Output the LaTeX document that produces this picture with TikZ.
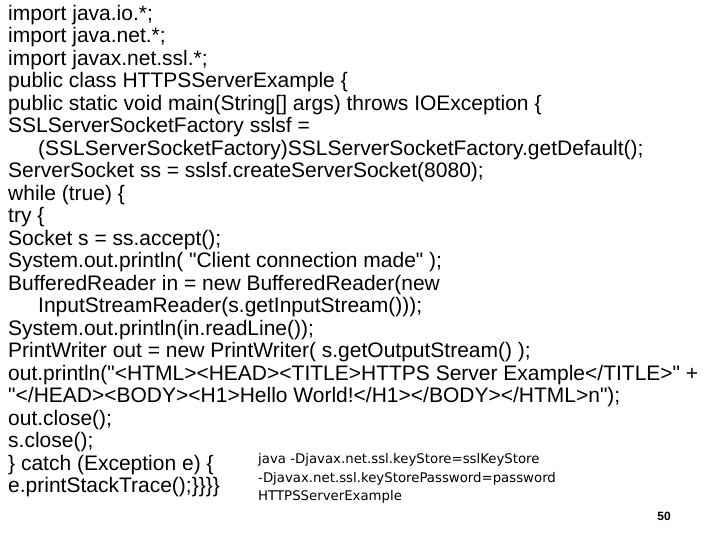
\documentclass[tikz,border=0pt]{standalone}
\usepackage{fontspec}
\setmainfont{Liberation Sans}
\newfontfamily\smallfont{DejaVu Sans}
\begin{document}
\begin{tikzpicture}[x=1pt,y=-1pt,
  code/.style={anchor=west,inner sep=0pt,font=\fontsize{21}{23}\selectfont},
  cmd/.style={anchor=west,inner sep=0pt,font=\smallfont\fontsize{13.3}{15}\selectfont},
  pg/.style={anchor=center,inner sep=0pt,font=\bfseries\fontsize{12}{14}\selectfont}]
\useasboundingbox[fill=white] (0,0) rectangle (720,540);
\node[code] (l1) at (8,15) {import java.io.*;};
\node[code] (l2) at (8,37.5) {import java.net.*;};
\node[code] (l3) at (8,60) {import javax.net.ssl.*;};
\node[code] (l4) at (8,82.5) {public class HTTPSServerExample \{};
\node[code] (l5) at (8,105) {public static void main(String[] args) throws IOException \{};
\node[code] (l6) at (8,127.5) {SSLServerSocketFactory sslsf =};
\node[code] (l7) at (38,150) {(SSLServerSocketFactory)SSLServerSocketFactory.getDefault();};
\node[code] (l8) at (8,172.5) {ServerSocket ss = sslsf.createServerSocket(8080);};
\node[code] (l9) at (8,195) {while (true) \{};
\node[code] (l10) at (8,217.5) {try \{};
\node[code] (l11) at (8,240) {Socket s = ss.accept();};
\node[code] (l12) at (8,262.5) {System.out.println( \textquotedbl Client connection made\textquotedbl\ );};
\node[code] (l13) at (8,285) {BufferedReader in = new BufferedReader(new};
\node[code] (l14) at (38,307.5) {InputStreamReader(s.getInputStream()));};
\node[code] (l15) at (8,330) {System.out.println(in.readLine());};
\node[code] (l16) at (8,352.5) {PrintWriter out = new PrintWriter( s.getOutputStream() );};
\node[code] (l17) at (8,375) {out.println(\textquotedbl<HTML><HEAD><TITLE>HTTPS Server Example</TITLE>\textquotedbl\ +};
\node[code] (l18) at (8,397.5) {\textquotedbl</HEAD><BODY><H1>Hello World!</H1></BODY></HTML>n\textquotedbl);};
\node[code] (l19) at (8,420) {out.close();};
\node[code] (l20) at (8,442.5) {s.close();};
\node[code] (l21) at (8,465) {\} catch (Exception e) \{};
\node[code] (l22) at (8,487.5) {e.printStackTrace();\}\}\}\}};
\node[cmd] (c1) at (258,460) {java -Djavax.net.ssl.keyStore=sslKeyStore};
\node[cmd] (c2) at (258,479) {-Djavax.net.ssl.keyStorePassword=password};
\node[cmd] (c3) at (258,497) {HTTPSServerExample};
\node[pg] (p) at (664,516) {50};
\end{tikzpicture}
\end{document}
